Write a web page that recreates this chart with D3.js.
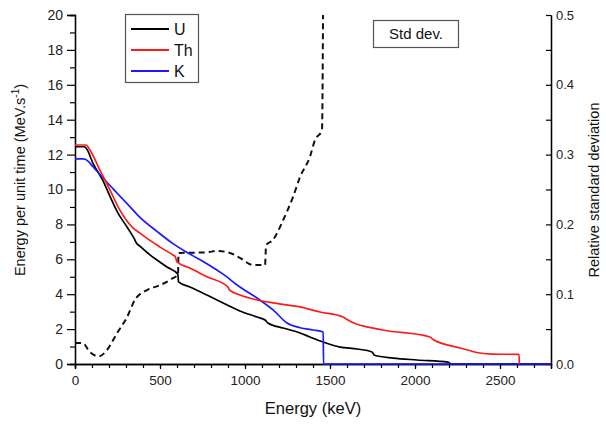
<!DOCTYPE html>
<html>
<head>
<meta charset="utf-8">
<script src="https://cdn.jsdelivr.net/npm/d3@7"></script>
<style>
  body { margin: 0; background: #fff; }
  svg { display: block; font-family: "Liberation Sans", Arial, sans-serif; }
</style>
</head>
<body>
<svg id="chart" width="606" height="424"></svg>
<script>
// ---- data (Energy keV, value) ----
const uData = [[0,12.45],[55,12.45],[70,12.3],[106,11.5],[165,10.5],[206,9.6],[253,8.65],[306,7.85],[350,7.15],[360,6.95],[382,6.75],[441,6.25],[482,5.96],[541,5.56],[605,5.15],[609,4.7],[676,4.41],[776,3.95],[871,3.5],[970,3.04],[1071,2.69],[1118,2.52],[1135,2.35],[1224,2.06],[1324,1.78],[1382,1.55],[1459,1.26],[1559,0.97],[1659,0.86],[1747,0.69],[1762,0.5],[1871,0.34],[2012,0.23],[2194,0.11],[2204,0.05],[2205,0],[2800,0]];
const thData = [[0,12.55],[65,12.55],[88,12.26],[147,11.1],[206,9.97],[265,8.8],[341,7.8],[382,7.5],[424,7.2],[482,6.82],[500,6.7],[576,6.25],[590,6.15],[600,5.85],[676,5.5],[776,5.0],[900,4.41],[908,4.25],[970,3.95],[1071,3.67],[1165,3.5],[1324,3.27],[1441,2.98],[1576,2.69],[1600,2.55],[1618,2.45],[1812,1.95],[2088,1.55],[2106,1.4],[2265,0.92],[2382,0.63],[2450,0.57],[2612,0.55],[2614,0]];
const kData = [[0,11.75],[50,11.75],[80,11.6],[106,11.3],[165,10.66],[247,9.8],[324,9.0],[382,8.4],[482,7.6],[576,6.9],[676,6.3],[776,5.75],[871,5.15],[970,4.41],[1071,3.78],[1165,3.1],[1247,2.35],[1324,2.08],[1400,1.95],[1460,1.83],[1462,0],[2800,0]];
const stdData = [[0,0.030],[45,0.030],[88,0.017],[140,0.011],[188,0.020],[247,0.044],[306,0.067],[353,0.092],[365,0.096],[424,0.106],[500,0.113],[576,0.123],[606,0.128],[609,0.159],[776,0.160],[835,0.162],[912,0.159],[970,0.152],[1047,0.142],[1118,0.142],[1124,0.170],[1165,0.178],[1224,0.206],[1282,0.239],[1324,0.268],[1382,0.297],[1412,0.321],[1453,0.335],[1459,0.5]];

const xTicks = [0,500,1000,1500,2000,2500];
const yLeftTicks = [0,2,4,6,8,10,12,14,16,18,20];
const yRightTicks = [0.0,0.1,0.2,0.3,0.4,0.5];
const seriesNames = ["U","Th","K"];
const seriesColors = ["#000000","#ff1a1a","#1a1aff"];

// ---- layout ----
const L = 75, R = 551, T = 15, B = 364;
const svg = d3.select("#chart");
const x = d3.scaleLinear().domain([0,2800]).range([L,R]);
const y = d3.scaleLinear().domain([0,20]).range([B,T]);
const y2 = d3.scaleLinear().domain([0,0.5]).range([B,T]);

const tickColor = "#222";
function styleAxis(g, fs){
  g.select(".domain").attr("stroke","#000").attr("stroke-width",1.3);
  g.selectAll(".tick line").attr("stroke","#000").attr("stroke-width",1.2);
  g.selectAll(".tick text").attr("fill",tickColor).style("font-size",(fs||13)+"px");
}
svg.append("g").attr("transform",`translate(0,${B})`)
  .call(d3.axisBottom(x).tickValues(d3.range(0,2801,100)).tickSize(4).tickFormat(""))
  .call(styleAxis);
svg.append("g").attr("transform",`translate(0,${B})`)
  .call(d3.axisBottom(x).tickValues(xTicks).tickSize(5).tickPadding(6).tickFormat(d3.format("d")))
  .call(g=>styleAxis(g,13.5));
svg.append("g").attr("transform",`translate(${L},0)`)
  .call(d3.axisLeft(y).tickValues(d3.range(1,20,2)).tickSize(5).tickFormat(""))
  .call(styleAxis);
svg.append("g").attr("transform",`translate(${L},0)`)
  .call(d3.axisLeft(y).tickValues(yLeftTicks).tickSize(8).tickPadding(4).tickFormat(d3.format("d")))
  .call(g=>styleAxis(g,14));
const rMinor = svg.append("g").attr("transform",`translate(${R},0)`)
  .call(d3.axisRight(y2).tickValues([0.05,0.15,0.25,0.35,0.45]).tickSize(0).tickFormat(""))
  .call(styleAxis);
rMinor.selectAll(".tick line").attr("x2",-5);
const rMajor = svg.append("g").attr("transform",`translate(${R},0)`)
  .call(d3.axisRight(y2).tickValues(yRightTicks).tickSize(0).tickPadding(5).tickFormat(d3.format(".1f")))
  .call(g=>styleAxis(g,13));
rMajor.selectAll(".tick line").attr("x2",-5);

// lines
const line = d3.line().curve(d3.curveMonotoneX).x(d=>x(d[0])).y(d=>y(d[1]));
const line2 = d3.line().curve(d3.curveMonotoneX).x(d=>x(d[0])).y(d=>y2(d[1]));
svg.append("path").datum(stdData).attr("d",line2).attr("fill","none")
  .attr("stroke","#111").attr("stroke-width",2).attr("stroke-dasharray","6,4");
[uData, kData, thData].forEach((data)=>{
  const i = data===uData?0:(data===thData?1:2);
  svg.append("path").datum(data).attr("d",line).attr("fill","none")
    .attr("stroke",seriesColors[i]).attr("stroke-width",1.7).attr("stroke-linejoin","round");
});

// legend
const lg = svg.append("g");
lg.append("rect").attr("x",125.5).attr("y",14.5).attr("width",73).attr("height",68)
  .attr("fill","#fff").attr("stroke","#555").attr("stroke-width",1.2);
const legY = [29,50,71];
seriesNames.forEach((n,i)=>{
  lg.append("line").attr("x1",131).attr("x2",169).attr("y1",legY[i]).attr("y2",legY[i])
    .attr("stroke",seriesColors[i]).attr("stroke-width",1.8);
  lg.append("text").attr("x",174).attr("y",legY[i]+6).text(n)
    .style("font-size","16px").attr("fill","#111");
});

// std dev box
svg.append("rect").attr("x",373.5).attr("y",20.5).attr("width",85).attr("height",27)
  .attr("fill","#fff").attr("stroke","#555").attr("stroke-width",1.2);
svg.append("text").attr("x",416).attr("y",39).attr("text-anchor","middle")
  .text("Std dev.").style("font-size","15px").attr("fill","#111");

// axis titles
svg.append("text").attr("x",313).attr("y",414).attr("text-anchor","middle")
  .text("Energy (keV)").style("font-size","16.5px").attr("fill","#111");
const lt = svg.append("text").attr("transform","translate(25,180) rotate(-90)")
  .attr("text-anchor","middle").style("font-size","14.5px").attr("fill","#111");
lt.append("tspan").text("Energy per unit time (MeV.s");
lt.append("tspan").attr("dy",-6).style("font-size","10px").text("-1");
lt.append("tspan").attr("dy",6).text(")");
svg.append("text").attr("transform","translate(599,190) rotate(-90)")
  .attr("text-anchor","middle").style("font-size","14.5px").attr("fill","#111")
  .text("Relative standard deviation");
</script>
</body>
</html>
